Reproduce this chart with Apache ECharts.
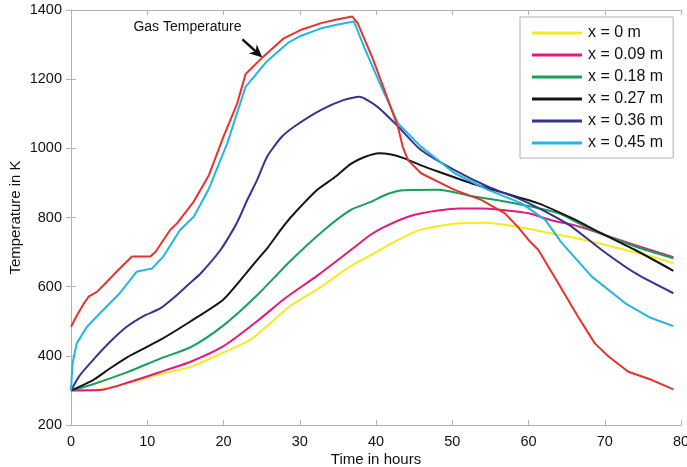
<!DOCTYPE html>
<html>
<head>
<meta charset="utf-8">
<script src="https://cdn.jsdelivr.net/npm/echarts@6/dist/echarts.min.js"></script>
<style>
  html, body { margin: 0; padding: 0; background: #fff; }
  #chart { width: 687px; height: 467px; }
</style>
</head>
<body>
<div id="chart"></div>
<script>
// Temperature histories [time in hours, temperature in K]
var gasTemperature = [[0,484],[0.8,518],[1.6,548],[2.3,571],[3.4,585],[4.3,605],[6.2,648],[8,687],[10.4,687],[11.1,701],[13,764],[13.9,783],[16.1,846],[18.1,923],[20,1034],[21.8,1130],[22.9,1215],[25.1,1263],[27.9,1318],[30.1,1342],[32.8,1362],[35,1373],[36.9,1381],[37.6,1362],[39.6,1258],[41.1,1169],[42.4,1090],[42.9,1060],[43.5,1005],[44.2,966],[45.9,928],[50.3,880],[53.8,851],[56.9,812],[58.6,773],[60,735],[61.3,706],[63.9,610],[66.5,513],[68.7,436],[70.5,398],[73.1,354],[76.2,330],[79,303]];
var tempX0   = [[0,300],[3,301],[7.3,320],[11.7,347],[15.7,368],[20,410],[23.6,448],[28.8,545],[32.3,592],[36.7,660],[39.8,697],[42.9,735],[45.5,762],[49.9,781],[52,784],[54.3,785],[58.6,773],[63,754],[67.4,735],[71.8,711],[76,688],[79,668]];
var tempX009 = [[0,300],[3.8,301],[8.2,328],[12.6,360],[15.7,383],[20,428],[24.4,500],[28,565],[32.3,632],[36.7,706],[39.3,750],[41.1,773],[44.6,805],[48.1,820],[51,826],[53.8,826],[56.4,822],[60,812],[63,792],[66,778],[68.3,762],[74,720],[79,685]];
var tempX018 = [[0,300],[2.9,318],[7.3,352],[11.7,392],[15.7,425],[20,488],[24.4,575],[28.8,675],[33.2,764],[36.7,822],[39.3,845],[41.5,868],[43.7,879],[48.1,880],[52.5,862],[56.9,846],[61.3,827],[64,812],[68.3,764],[74,716],[79,682]];
var tempX027 = [[0,300],[2.9,330],[5,362],[7.3,395],[11.7,446],[15.7,500],[20,563],[23.1,642],[24.4,677],[25.7,710],[27.5,764],[28.8,800],[32.3,880],[34.5,915],[36.7,955],[38.5,975],[40.4,986],[42,982],[43.7,971],[46,950],[48.1,933],[52.5,899],[56.9,870],[61.3,841],[65.7,798],[69.6,754],[74,706],[79,646]];
var tempX036 = [[0,300],[1.2,345],[3.3,398],[5.1,440],[7.3,484],[9.5,515],[11.7,537],[13.9,576],[15.7,612],[17,638],[19.6,706],[21.4,770],[22.2,805],[23.1,850],[24.4,908],[25.7,975],[27.5,1030],[29.3,1063],[32.8,1111],[35.8,1140],[37.8,1149],[40.2,1120],[42.9,1063],[45.9,995],[50.3,937],[54.7,889],[59.1,851],[63.5,802],[65.7,773],[69.6,706],[74,639],[79,581]];
var tempX045 = [[0,300],[0.1,340],[0.2,378],[0.75,436],[2.1,484],[3.8,523],[6.4,581],[8.6,643],[10,650],[10.6,652],[12.1,687],[14.3,764],[16.1,802],[18.1,884],[20.5,1015],[22.9,1178],[25.7,1252],[28.4,1304],[30.1,1325],[32.8,1347],[35,1358],[37.1,1367],[38.5,1290],[40.7,1178],[42.9,1072],[45.9,1005],[50.3,928],[54.7,880],[59.1,841],[62.2,793],[64.3,728],[68.3,629],[72.7,552],[76,510],[79,486]];

var legendNames = ['x = 0 m', 'x = 0.09 m', 'x = 0.18 m', 'x = 0.27 m', 'x = 0.36 m', 'x = 0.45 m'];
var xTicks = { min: 0, max: 80, interval: 10 };
var yTicks = { min: 200, max: 1400, interval: 200 };

var FONT = '"Liberation Sans", Arial, sans-serif';
var frameColor = '#b3b3b3';

var chart = echarts.init(document.getElementById('chart'), null, { renderer: 'canvas' });

function lineSeries(name, data, color, smooth) {
  return {
    name: name, type: 'line', data: data, xAxisIndex: 0, yAxisIndex: 0,
    showSymbol: false, symbol: 'none', smooth: smooth, animation: false,
    lineStyle: { color: color, width: 2 }, itemStyle: { color: color }
  };
}

function boxAxis(base, pos) {
  return Object.assign({}, base, {
    position: pos, axisLabel: { show: false }, name: '',
    axisLine: { show: true, lineStyle: { color: frameColor, width: 1 } },
    axisTick: { show: true, inside: true, length: 5, lineStyle: { color: frameColor } },
    splitLine: { show: false }
  });
}

var xBase = { type: 'value', min: xTicks.min, max: xTicks.max, interval: xTicks.interval };
var yBase = { type: 'value', min: yTicks.min, max: yTicks.max, interval: yTicks.interval };
var plainNumber = function (v) { return String(v); };

var option = {
  backgroundColor: '#fff',
  animation: false,
  grid: { left: 71, right: 6, top: 10, bottom: 42, containLabel: false, outerBoundsMode: 'none' },
  legend: {
    data: legendNames, orient: 'vertical', left: 520, top: 17,
    icon: 'rect', itemWidth: 50, itemHeight: 3, itemGap: 4,
    padding: [7, 10, 6, 12],
    borderColor: '#b0b0b0', borderWidth: 1, backgroundColor: '#fff',
    textStyle: { fontFamily: FONT, fontSize: 16, color: '#111', lineHeight: 18, padding: [0, 0, 0, 1] }
  },
  xAxis: [
    Object.assign({}, xBase, {
      position: 'bottom',
      name: 'Time in hours', nameLocation: 'middle', nameGap: 27, nameMoveOverlap: false,
      nameTextStyle: { fontFamily: FONT, fontSize: 15, color: '#111' },
      axisLine: { show: true, lineStyle: { color: frameColor, width: 1 } },
      axisTick: { show: true, inside: true, length: 5, lineStyle: { color: frameColor } },
      axisLabel: { fontFamily: FONT, fontSize: 14.5, color: '#111', margin: 9, formatter: plainNumber },
      splitLine: { show: false }
    }),
    boxAxis(xBase, 'top')
  ],
  yAxis: [
    Object.assign({}, yBase, {
      position: 'left',
      name: 'Temperature in K', nameLocation: 'middle', nameGap: 48, nameRotate: 90, nameMoveOverlap: false,
      nameTextStyle: { fontFamily: FONT, fontSize: 15, color: '#111' },
      axisLine: { show: true, lineStyle: { color: frameColor, width: 1 } },
      axisTick: { show: true, inside: true, length: 5, lineStyle: { color: frameColor } },
      axisLabel: { fontFamily: FONT, fontSize: 14.5, color: '#111', margin: 9, formatter: plainNumber },
      splitLine: { show: false }
    }),
    boxAxis(yBase, 'right')
  ],
  series: [
    lineSeries(legendNames[0], tempX0, '#f7e925', 0.25),
    lineSeries(legendNames[1], tempX009, '#e3197f', 0.25),
    lineSeries(legendNames[2], tempX018, '#18a058', 0.25),
    lineSeries(legendNames[3], tempX027, '#141414', 0.2),
    lineSeries(legendNames[4], tempX036, '#34358e', 0.2),
    lineSeries(legendNames[5], tempX045, '#22b5e5', false),
    lineSeries('Gas Temperature', gasTemperature, '#e8322b', false)
  ]
};
chart.setOption(option);

// "Gas Temperature" label with an arrow pointing at the gas curve
var tip = chart.convertToPixel({ xAxisIndex: 0, yAxisIndex: 0 }, [25.1, 1263]);
var tail = [tip[0] - 20, tip[1] - 18];
var ang = Math.atan2(tip[1] - tail[1], tip[0] - tail[0]);
function rot(dx, dy) {
  return [tip[0] + dx * Math.cos(ang) - dy * Math.sin(ang), tip[1] + dx * Math.sin(ang) + dy * Math.cos(ang)];
}
chart.setOption({
  graphic: [
    {
      type: 'text', left: tip[0] - 129, top: tip[1] - 37,
      style: { text: 'Gas Temperature', font: '14px "Liberation Sans", Arial, sans-serif', fill: '#111' }
    },
    {
      type: 'line', shape: { x1: tail[0], y1: tail[1], x2: rot(-8, 0)[0], y2: rot(-8, 0)[1] },
      style: { stroke: '#111', lineWidth: 2.5 }
    },
    {
      type: 'polygon',
      shape: { points: [rot(0, 0), rot(-13, -6), rot(-9, 0), rot(-13, 6)] },
      style: { fill: '#111' }
    }
  ]
});
</script>
</body>
</html>
